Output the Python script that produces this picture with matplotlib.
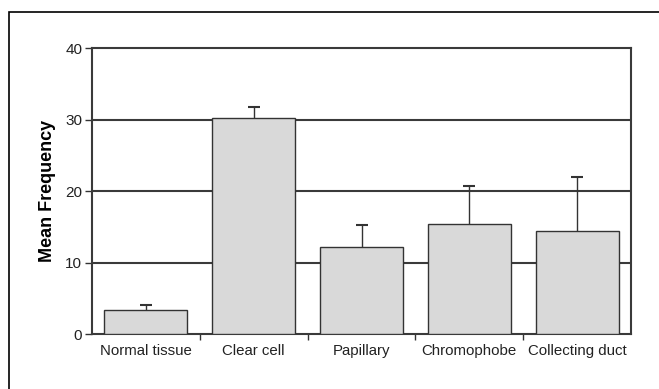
import matplotlib
matplotlib.use("Agg")
import matplotlib.pyplot as plt
from matplotlib.patches import Rectangle

plt.rcParams['font.family'] = ['Liberation Sans', 'DejaVu Sans']

categories = ["Normal tissue", "Clear cell", "Papillary", "Chromophobe", "Collecting duct"]
means = [3.3, 30.2, 12.2, 15.4, 14.4]
errors = [0.7, 1.5, 3.0, 5.3, 7.5]
yticks = [0, 10, 20, 30, 40]

W, H = 659, 389
fig = plt.figure(figsize=(W / 100, H / 100), dpi=100)
ax = fig.add_axes([92 / W, 1 - 334 / H, (631 - 92) / W, (334 - 48) / H])

# outer frame (only left and top visible)
fig.patches.append(Rectangle((9 / W, -0.1), 1.2, 1 - 12 / H + 0.1, transform=fig.transFigure,
                             fill=False, edgecolor='black', linewidth=1.2))

x = list(range(len(categories)))
ax.bar(x, means, width=0.77, color='#d9d9d9', edgecolor='#333333', linewidth=1.0, zorder=3)
eb = ax.errorbar(x, means, yerr=[[0] * len(errors), errors], fmt='none', ecolor='#333333',
                 elinewidth=1.0, capsize=4, capthick=1.5, zorder=2)
caps = eb.lines[1]
if len(caps) == 2:
    caps[0].set_visible(False)

ax.set_xlim(-0.5, len(categories) - 0.5)
ax.set_ylim(0, 40)
ax.set_yticks(yticks)
ax.set_yticklabels([str(t) for t in yticks], fontsize=11, color='#222222')
ax.set_xticks(x)
ax.set_xticklabels(categories, fontsize=10.8, color='#222222')
ax.tick_params(axis='x', length=0, pad=7)
ax.set_xticks([i + 0.5 for i in range(len(categories) - 1)], minor=True)
ax.tick_params(axis='x', which='minor', length=4, width=1, color='#333333')
ax.tick_params(axis='y', length=5, width=1, color='#333333', pad=2)

for t in yticks[1:-1]:
    ax.axhline(t, color='#3a3a3a', linewidth=1.5, zorder=1)

for s in ax.spines.values():
    s.set_color('#3a3a3a')
    s.set_linewidth(1.5)

ax.set_ylabel("Mean Frequency", fontsize=13, fontweight='bold', labelpad=7)

fig.savefig("out.png", dpi=100)
